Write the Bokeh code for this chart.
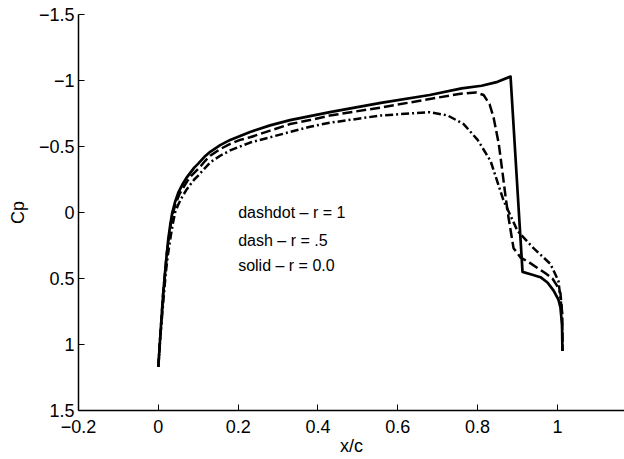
from bokeh.plotting import figure
from bokeh.models import Range1d, FixedTicker, CustomJSTickFormatter
from bokeh.core.properties import value
from bokeh.embed import file_html
from bokeh.resources import INLINE

# r = 0.0 (solid)
x_solid = [0.0, 0.004, 0.008, 0.012, 0.017, 0.021, 0.025, 0.03, 0.035, 0.042, 0.05, 0.06, 0.07,
           0.08, 0.09, 0.1, 0.115, 0.13, 0.155, 0.18, 0.205, 0.23, 0.28, 0.33, 0.38, 0.43,
           0.5575, 0.68, 0.76, 0.81, 0.85, 0.8825, 0.9125, 0.935, 0.9575, 0.975, 0.99, 1.0025,
           1.0075, 1.0115, 1.0125]
cp_solid = [1.17, 0.98, 0.80, 0.62, 0.45, 0.32, 0.20, 0.09, 0.0, -0.08, -0.15, -0.21, -0.26,
            -0.30, -0.34, -0.37, -0.42, -0.46, -0.51, -0.55, -0.58, -0.61, -0.66, -0.70, -0.73, -0.76,
            -0.83, -0.89, -0.94, -0.96, -0.99, -1.03, 0.45, 0.47, 0.49, 0.53, 0.59, 0.66,
            0.72, 0.85, 1.05]

# r = 0.5 (dash)
x_dash = [0.0, 0.004, 0.008, 0.012, 0.017, 0.021, 0.026, 0.031, 0.037, 0.044, 0.053, 0.063, 0.073,
          0.083, 0.093, 0.103, 0.117, 0.13, 0.155, 0.18, 0.205, 0.23, 0.28, 0.33, 0.38, 0.43,
          0.5575, 0.68, 0.7575, 0.795, 0.815, 0.83, 0.84, 0.853, 0.8625, 0.87, 0.8775, 0.89,
          0.9075, 0.93, 0.95, 0.97, 0.9875, 1.0, 1.0075, 1.0115, 1.0125]
cp_dash = [1.17, 0.98, 0.80, 0.62, 0.45, 0.32, 0.20, 0.09, 0.0, -0.07, -0.14, -0.19, -0.24,
           -0.28, -0.31, -0.34, -0.39, -0.43, -0.48, -0.52, -0.55, -0.57, -0.62, -0.67, -0.70, -0.735,
           -0.795, -0.86, -0.90, -0.91, -0.89, -0.82, -0.72, -0.52, -0.30, -0.12, 0.04, 0.27,
           0.34, 0.38, 0.42, 0.46, 0.50, 0.56, 0.61, 0.75, 1.05]

# r = 1 (dashdot)
x_dd = [0.0, 0.004, 0.009, 0.014, 0.019, 0.024, 0.03, 0.036, 0.042, 0.05, 0.06, 0.07, 0.08,
        0.09, 0.1, 0.115, 0.13, 0.155, 0.18, 0.205, 0.23, 0.28, 0.33, 0.38, 0.43,
        0.5575, 0.68, 0.725, 0.765, 0.8, 0.8325, 0.865, 0.9, 0.94, 0.9825, 1.0025, 1.0115, 1.0125]
cp_dd = [1.17, 0.98, 0.80, 0.62, 0.45, 0.32, 0.20, 0.09, 0.0, -0.06, -0.12, -0.17, -0.21,
         -0.25, -0.28, -0.33, -0.38, -0.43, -0.47, -0.50, -0.53, -0.57, -0.61, -0.65, -0.68,
         -0.735, -0.76, -0.735, -0.67, -0.55, -0.39, -0.09, 0.14, 0.27, 0.39, 0.52, 0.75, 1.05]

x_ticks = [-0.2, 0.0, 0.2, 0.4, 0.6, 0.8, 1.0]
y_ticks = [-1.5, -1.0, -0.5, 0.0, 0.5, 1.0, 1.5]

notes = ["dashdot \u2013 r = 1", "dash \u2013 r = .5", "solid \u2013 r = 0.0"]
note_x = [0.2, 0.2, 0.2]
note_y = [0.0, 0.21, 0.4]

FONT = "Liberation Sans"

p = figure(width=624, height=459, output_backend="svg", toolbar_location=None,
           x_range=Range1d(-0.2, 1.168), y_range=Range1d(1.5, -1.5),
           min_border_left=78, min_border_right=0, min_border_top=14, min_border_bottom=49)
p.outline_line_color = None
p.xgrid.visible = False
p.ygrid.visible = False
p.background_fill_color = "white"
p.border_fill_color = "white"

p.line(x_dd, cp_dd, line_color="black", line_width=2.5, line_dash="8 3 2 3", line_join="round")
p.line(x_dash, cp_dash, line_color="black", line_width=2.5, line_dash="10 4", line_join="round")
p.line(x_solid, cp_solid, line_color="black", line_width=2.7, line_join="round")

p.text(x=note_x, y=note_y, text=notes, text_font=value(FONT), text_font_size="16px",
       text_baseline="middle", text_align="left", text_color="black")

fmt = CustomJSTickFormatter(code="""
const v = Math.round(tick * 10) / 10;
const s = Math.abs(v).toString();
return v < 0 ? '\\u2212' + s : s;
""")

for ax, ticks, label in ((p.xaxis[0], x_ticks, "x/c"), (p.yaxis[0], y_ticks, "Cp")):
    ax.ticker = FixedTicker(ticks=ticks, minor_ticks=[])
    ax.formatter = fmt
    ax.axis_label = label
    ax.axis_label_text_font = FONT
    ax.axis_label_text_font_size = "18px"
    ax.axis_label_text_font_style = "normal"
    ax.axis_label_text_color = "black"
    ax.major_label_text_font = FONT
    ax.major_label_text_font_size = "18px"
    ax.major_label_text_color = "black"
    ax.major_tick_in = 6
    ax.major_tick_out = 0
    ax.minor_tick_in = 0
    ax.minor_tick_out = 0
    ax.axis_line_color = "black"
    ax.major_tick_line_color = "black"
    ax.axis_line_width = 1.5

p.yaxis[0].major_label_standoff = 4
p.yaxis[0].axis_label_standoff = 8
p.xaxis[0].major_label_standoff = 9
p.xaxis[0].axis_label_standoff = 0

open("out.html", "w").write(file_html(p, INLINE))
